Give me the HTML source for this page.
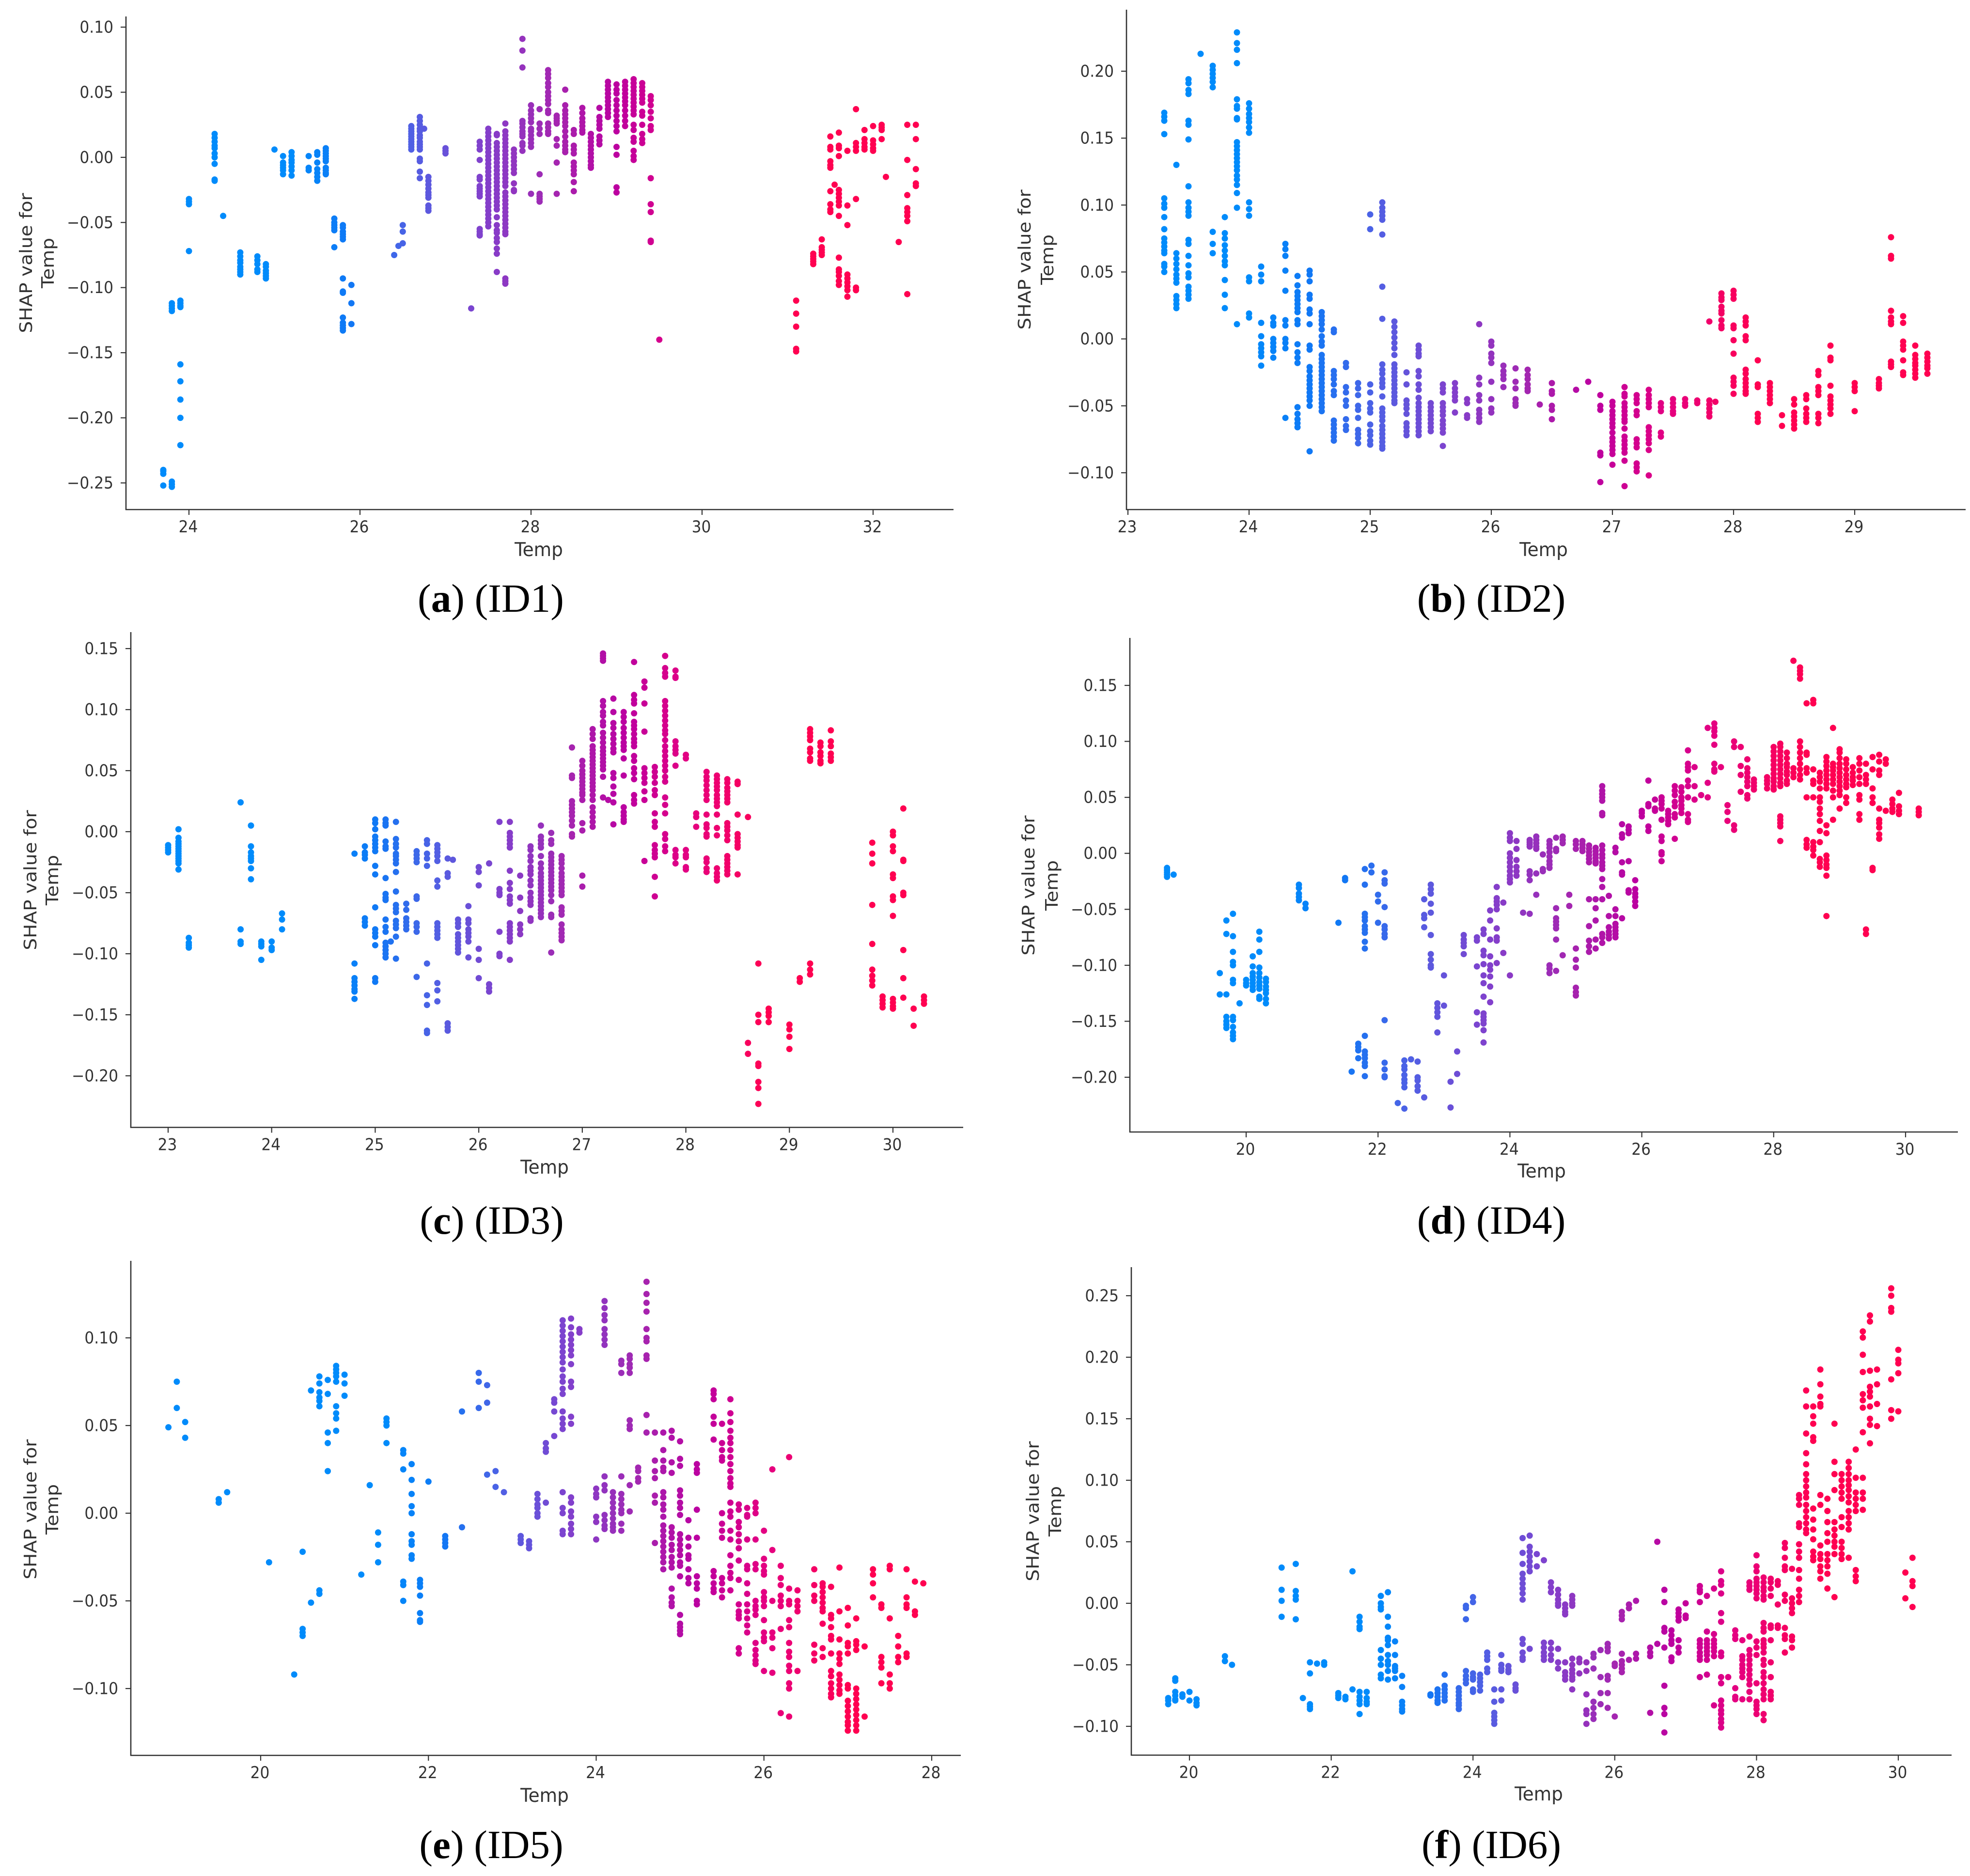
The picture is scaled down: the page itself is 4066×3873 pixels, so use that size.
<!DOCTYPE html>
<html lang="en">
<head>
<meta charset="utf-8">
<title>SHAP dependence plots for Temp, ID1 to ID6</title>
<style>
html,body{margin:0;padding:0;background:#fff;}
svg{display:block;}
.tick{font-family:"DejaVu Sans","Liberation Sans",sans-serif;font-size:34px;fill:#333;}
.axt{font-family:"DejaVu Sans","Liberation Sans",sans-serif;font-size:39px;fill:#333;}
.cap{font-family:"Liberation Serif",serif;font-size:83px;fill:#000;}
</style>
</head>
<body>
<svg id="figure" xmlns="http://www.w3.org/2000/svg" width="4066" height="3873" viewBox="0 0 4066 3873">
<rect width="4066" height="3873" fill="#fff"/>
<g id="panel-1">
<text class="axt" transform="translate(1112,1148) scale(.96,1)" text-anchor="middle">Temp</text>
<text class="axt" transform="translate(66,543) rotate(-90) scale(1,.92)" text-anchor="middle">SHAP value for</text>
<text class="axt" transform="translate(111,543) rotate(-90) scale(1,.92)" text-anchor="middle">Temp</text>
<text class="cap" x="1013" y="1263" text-anchor="middle">(<tspan font-weight="bold">a</tspan>) (ID1)</text>
</g>
<g id="panel-2">
<text class="axt" transform="translate(3186,1148) scale(.96,1)" text-anchor="middle">Temp</text>
<text class="axt" transform="translate(2127,536) rotate(-90) scale(1,.92)" text-anchor="middle">SHAP value for</text>
<text class="axt" transform="translate(2174,536) rotate(-90) scale(1,.92)" text-anchor="middle">Temp</text>
<text class="cap" x="3078" y="1263" text-anchor="middle">(<tspan font-weight="bold">b</tspan>) (ID2)</text>
</g>
<g id="panel-3">
<text class="axt" transform="translate(1124,2423) scale(.96,1)" text-anchor="middle">Temp</text>
<text class="axt" transform="translate(75,1817) rotate(-90) scale(1,.92)" text-anchor="middle">SHAP value for</text>
<text class="axt" transform="translate(120,1817) rotate(-90) scale(1,.92)" text-anchor="middle">Temp</text>
<text class="cap" x="1015" y="2547" text-anchor="middle">(<tspan font-weight="bold">c</tspan>) (ID3)</text>
</g>
<g id="panel-4">
<text class="axt" transform="translate(3182,2431) scale(.96,1)" text-anchor="middle">Temp</text>
<text class="axt" transform="translate(2135,1828) rotate(-90) scale(1,.92)" text-anchor="middle">SHAP value for</text>
<text class="axt" transform="translate(2183,1828) rotate(-90) scale(1,.92)" text-anchor="middle">Temp</text>
<text class="cap" x="3078" y="2547" text-anchor="middle">(<tspan font-weight="bold">d</tspan>) (ID4)</text>
</g>
<g id="panel-5">
<text class="axt" transform="translate(1124,3720) scale(.96,1)" text-anchor="middle">Temp</text>
<text class="axt" transform="translate(75,3116) rotate(-90) scale(1,.92)" text-anchor="middle">SHAP value for</text>
<text class="axt" transform="translate(120,3116) rotate(-90) scale(1,.92)" text-anchor="middle">Temp</text>
<text class="cap" x="1014" y="3836" text-anchor="middle">(<tspan font-weight="bold">e</tspan>) (ID5)</text>
</g>
<g id="panel-6">
<text class="axt" transform="translate(3176,3717) scale(.96,1)" text-anchor="middle">Temp</text>
<text class="axt" transform="translate(2144,3120) rotate(-90) scale(1,.92)" text-anchor="middle">SHAP value for</text>
<text class="axt" transform="translate(2190,3120) rotate(-90) scale(1,.92)" text-anchor="middle">Temp</text>
<text class="cap" x="3078" y="3836" text-anchor="middle">(<tspan font-weight="bold">f</tspan>) (ID6)</text>
</g>
</svg>
<script>
// ---------- ID1 ----------
const xTicks1=[24,26,28,30,32];
const yTicks1=[0.10,0.05,0,-0.05,-0.10,-0.15,-0.20,-0.25];
const temps1=[23.7,23.8,23.9,24,24.3,24.4,24.6,24.8,24.9,25,25.1,25.2,25.4,25.5,25.6,25.7,25.8,25.9,26.4,26.45,26.5,26.6,26.7,26.75,26.8,27,27.3,27.4,27.5,27.6,27.7,27.8,27.9,28,28.1,28.2,28.3,28.4,28.5,28.6,28.7,28.8,28.9,29,29.1,29.2,29.3,29.4,29.5,31.1,31.3,31.4,31.5,31.55,31.6,31.7,31.8,31.9,32,32.1,32.15,32.3,32.4,32.5];
const shap1=[
[-.24,-.241,-.243,-.252],
[-.112,-.114,-.116,-.118,-.249,-.251,-.253],
[-.11,-.112,-.114,-.115,-.159,-.172,-.186,-.2,-.221],
[-.032,-.034,-.036,-.072],
[.018,.015,.012,.009,.007,.003,0,-.005,-.017,-.018],
[-.045],
[-.073,-.076,-.079,-.081,-.084,-.086,-.088,-.09],
[-.076,-.079,-.082,-.086,-.088],
[-.082,-.084,-.087,-.089,-.091,-.093],
[.006],
[.001,-.004,-.006,-.008,-.01,-.013],
[.004,.001,-.002,-.004,-.007,-.01,-.014],
[.001,-.008,-.01],
[.004,.002,-.004,-.009,-.012,-.015,-.018],
[.007,.005,.003,.001,-.001,-.003,-.008,-.01,-.012,-.013],
[-.047,-.05,-.052,-.054,-.056,-.069],
[-.052,-.054,-.057,-.059,-.061,-.063,-.093,-.103,-.104,-.123,-.127,-.129,-.131,-.133],
[-.098,-.112,-.128],
[-.075],
[-.068],
[-.052,-.057,-.066],
[.024,.022,.02,.018,.016,.014,.012,.01,.008,.006],
[.031,.028,.025,.022,.02,.017,.015,.012,.01,.008,.006,-.001,-.003,-.011,-.016],
[.022],
[-.015,-.018,-.021,-.024,-.027,-.029,-.031,-.037,-.039,-.041],
[.007,.005,.003],
[-.116],
[.012,.009,.006,-.002,-.015,-.017,-.022,-.024,-.026,-.028,-.03,-.055,-.057,-.059,-.06],
[.022,.019,.016,.013,.01,.007,.004,.001,-.002,-.005,-.008,-.011,-.014,-.017,-.02,-.023,-.026,-.029,-.032,-.035,-.038,-.041,-.044,-.047,-.05,-.053],
[.018,.017,.011,.008,.005,.002,-.001,-.004,-.007,-.01,-.013,-.016,-.019,-.022,-.025,-.028,-.031,-.034,-.037,-.04,-.046,-.052,-.056,-.058,-.062,-.065,-.07,-.074,-.088],
[.026,.02,.017,.014,.011,.008,.005,.002,-.001,-.004,-.007,-.01,-.013,-.016,-.019,-.022,-.027,-.03,-.033,-.036,-.039,-.042,-.045,-.048,-.051,-.054,-.057,-.059,-.093,-.095,-.097],
[.006,.003,0,-.003,-.006,-.009,-.012,-.02,-.025,-.026],
[.091,.082,.069,.028,.026,.023,.02,.018,.016,.011,.009,.005],
[.04,.036,.033,.03,.027,.022,.02,.017,.014,.011,.008,-.028],
[.037,.026,.022,.018,-.013,-.028,-.03,-.032,-.034],
[.067,.064,.061,.057,.054,.05,.047,.044,.041,.036,.034,.026,.023,.02,.018],
[.032,.03,.028,.026,.014,.009,-.004,-.028],
[.052,.04,.036,.033,.03,.027,.024,.02,.016,.012,.009,.006,.004],
[.021,.018,.009,.006,.003,-.004,-.007,-.01,-.013,-.019,-.026],
[.038,.034,.03,.027,.024,.021,.019],
[.018,.015,.012,.009,.006,.003,0,-.003,-.006,-.008],
[.038,.031,.028,.025,.022,.016,.013,.01],
[.058,.055,.052,.049,.046,.043,.04,.037,.034,.031],
[.056,.052,.049,.044,.04,.036,.032,.028,.024,.02,.008,.002,-.023,-.027],
[.058,.055,.052,.049,.046,.043,.04,.036,.032,.028,.024],
[.06,.057,.054,.051,.048,.045,.042,.039,.036,.033,.025,.021,.015,.012,.005,.001,-.002],
[.057,.054,.051,.048,.045,.042,.035,.032,.025,.018,.014,.011],
[.047,.044,.04,.035,.03,.024,.021,-.016,-.036,-.042,-.064,-.065],
[-.14],
[-.11,-.12,-.13,-.147,-.149],
[-.074,-.076,-.078,-.08,-.082],
[-.063,-.069,-.071,-.073,-.075],
[.016,.008,.006,-.003,-.006,-.008,-.026,-.036,-.04,-.042],
[-.021],
[.019,.009,.007,.001,-.025,-.028,-.031,-.034,-.037,-.045,-.077,-.086,-.088,-.091,-.095,-.098],
[.005,-.037,-.052,-.09,-.093,-.096,-.099,-.102,-.107],
[.037,.011,.008,.005,-.032,-.1,-.102],
[.021,.014,.011,.008,.006],
[.024,.013,.01,.007,.005],
[.025,.023,.021,.014],
[-.015],
[-.065],
[.025,-.002,-.029,-.039,-.042,-.045,-.049,-.105],
[.025,.014,-.009,-.02,-.022]
];
// ---------- ID2 ----------
const xTicks2=[23,24,25,26,27,28,29];
const yTicks2=[0.20,0.15,0.10,0.05,0,-0.05,-0.10];
const temps2=[23.3,23.4,23.5,23.6,23.7,23.8,23.9,24,24.1,24.2,24.3,24.4,24.5,24.6,24.7,24.8,24.9,25,25.1,25.2,25.3,25.4,25.5,25.6,25.7,25.8,25.9,26,26.1,26.2,26.3,26.4,26.5,26.7,26.8,26.9,27,27.1,27.2,27.3,27.4,27.5,27.6,27.7,27.8,27.85,27.9,28,28.1,28.2,28.3,28.4,28.5,28.6,28.7,28.8,29,29.2,29.3,29.4,29.5,29.6];
const shap2=[
[.169,.166,.163,.153,.105,.101,.098,.091,.082,.075,.072,.069,.066,.064,.056,.054,.05],
[.13,.064,.06,.056,.052,.048,.045,.042,.032,.029,.026,.023],
[.194,.191,.186,.183,.163,.16,.149,.114,.102,.098,.095,.092,.074,.071,.062,.055,.049,.046,.039,.036,.033,.03],
[.213],
[.204,.201,.198,.195,.192,.188,.08,.071,.064],
[.091,.079,.075,.07,.066,.062,.058,.055,.044,.033,.023],
[.229,.221,.216,.206,.179,.174,.172,.165,.164,.147,.144,.141,.138,.135,.132,.129,.126,.122,.119,.115,.109,.098,.011],
[.176,.172,.168,.165,.162,.158,.154,.102,.097,.092,.046,.043,.019,.016],
[.054,.048,.043,.012,.002,-.004,-.007,-.01,-.013,-.02],
[.016,.012,.01,0,-.003,-.006,-.009,-.014],
[.071,.067,.062,.051,.036,.014,.01,0,-.003,-.007,-.059],
[.047,.04,.035,.032,.029,.026,.023,.02,.014,.011,-.004,-.01,-.014,-.018,-.051,-.056,-.06,-.063,-.066],
[.051,.048,.043,.033,.03,.022,.019,.011,-.005,-.008,-.021,-.024,-.028,-.031,-.034,-.037,-.04,-.043,-.046,-.05,-.084],
[.02,.017,.014,.011,.007,.002,-.002,-.005,-.012,-.015,-.018,-.021,-.024,-.027,-.03,-.033,-.036,-.039,-.042,-.045,-.048,-.051,-.054],
[.007,.005,-.024,-.027,-.03,-.034,-.039,-.042,-.061,-.064,-.067,-.07,-.073,-.076],
[-.018,-.021,-.036,-.04,-.046,-.05,-.06,-.065,-.068],
[-.033,-.037,-.042,-.05,-.053,-.059,-.068,-.071,-.074,-.078],
[.093,.082,-.034,-.04,-.048,-.052,-.055,-.064,-.069,-.072,-.076,-.079],
[.102,.098,.095,.092,.089,.078,.039,.015,-.019,-.023,-.026,-.03,-.033,-.036,-.043,-.052,-.055,-.058,-.061,-.065,-.068,-.071,-.074,-.077,-.08,-.082],
[.013,.009,.005,.001,-.003,-.007,-.012,-.019,-.022,-.025,-.028,-.031,-.034,-.037,-.04,-.043,-.046,-.048],
[-.025,-.034,-.046,-.049,-.052,-.056,-.063,-.066,-.069,-.072],
[-.005,-.008,-.011,-.013,-.024,-.028,-.034,-.038,-.044,-.048,-.051,-.054,-.057,-.06,-.063,-.066,-.069,-.072],
[-.048,-.051,-.054,-.057,-.06,-.063,-.066,-.069],
[-.034,-.037,-.04,-.048,-.051,-.054,-.057,-.061,-.064,-.067,-.07,-.08],
[-.033,-.037,-.04,-.043,-.046,-.055],
[-.045,-.048,-.057,-.059],
[.011,-.029,-.034,-.042,-.046,-.053,-.056,-.059,-.062],
[-.002,-.005,-.011,-.014,-.018,-.032,-.045,-.052,-.055],
[-.02,-.024,-.027,-.03,-.036],
[-.022,-.032,-.037,-.045,-.048,-.05],
[-.023,-.027,-.03,-.034,-.037,-.039],
[-.049],
[-.033,-.039,-.041,-.05,-.053,-.06],
[-.038],
[-.032],
[-.042,-.05,-.053,-.085,-.087,-.107],
[-.047,-.05,-.054,-.057,-.06,-.063,-.066,-.07,-.074,-.077,-.08,-.083,-.086,-.094],
[-.036,-.041,-.043,-.048,-.051,-.054,-.057,-.06,-.062,-.067,-.073,-.076,-.079,-.082,-.085,-.091,-.11],
[-.042,-.045,-.048,-.054,-.057,-.075,-.078,-.081,-.093,-.096,-.099],
[-.038,-.042,-.045,-.048,-.051,-.066,-.069,-.072,-.075,-.078,-.083,-.102],
[-.048,-.051,-.054,-.07,-.073],
[-.045,-.048,-.051,-.054,-.056],
[-.045,-.048,-.05],
[-.046,-.048],
[.013,-.046,-.049,-.052,-.055,-.058],
[-.047],
[.034,.031,.029,.024,.021,.019,.014,.01,.008],
[.036,.033,.03,.01,.008,-.001,-.011,-.029,-.032,-.035,-.041],
[.016,.013,.01,.002,-.001,-.023,-.026,-.03,-.033,-.036,-.039,-.041],
[-.016,-.034,-.036,-.056,-.059,-.062],
[-.033,-.036,-.039,-.042,-.045,-.048],
[-.057,-.065],
[-.045,-.049,-.055,-.058,-.061,-.064,-.067],
[-.042,-.045,-.052,-.056,-.059,-.062],
[-.024,-.027,-.036,-.039,-.042,-.056,-.059,-.063],
[-.005,-.014,-.016,-.035,-.043,-.046,-.049,-.052,-.056],
[-.033,-.036,-.039,-.054],
[-.03,-.033,-.035,-.037],
[.076,.062,.06,.021,.016,.013,.011,-.017,-.019,-.021],
[.017,.012,-.002,-.005,-.008,-.016,-.025,-.027],
[-.005,-.012,-.015,-.018,-.02,-.023,-.026,-.029],
[-.011,-.014,-.017,-.02,-.022,-.026]
];
// ---------- ID3 ----------
const xTicks3=[23,24,25,26,27,28,29,30];
const yTicks3=[0.15,0.10,0.05,0,-0.05,-0.10,-0.15,-0.20];
const temps3=[23,23.1,23.2,23.7,23.8,23.9,24,24.1,24.8,24.9,25,25.1,25.15,25.2,25.3,25.4,25.5,25.6,25.7,25.75,25.8,25.9,26,26.1,26.2,26.3,26.4,26.5,26.6,26.7,26.8,26.9,27,27.1,27.2,27.25,27.3,27.4,27.5,27.6,27.7,27.8,27.9,28,28.1,28.2,28.3,28.4,28.5,28.6,28.7,28.8,29,29.1,29.2,29.3,29.4,29.8,29.9,30,30.1,30.2,30.3];
const shap3=[
[-.011,-.013,-.015,-.017],
[.002,-.005,-.008,-.01,-.012,-.014,-.016,-.018,-.02,-.022,-.024,-.026,-.031],
[-.087,-.091,-.093,-.095],
[.024,-.08,-.09,-.092],
[.005,-.012,-.017,-.02,-.022,-.024,-.03,-.039],
[-.09,-.092,-.094,-.105],
[-.09,-.095,-.097],
[-.067,-.072,-.08],
[-.018,-.108,-.12,-.123,-.126,-.129,-.131,-.137],
[-.012,-.017,-.019,-.022,-.071,-.074,-.077],
[.01,.007,.002,-.004,-.007,-.01,-.013,-.016,-.028,-.035,-.062,-.08,-.083,-.086,-.093,-.12,-.123],
[.01,.007,.005,-.008,-.012,-.014,-.038,-.051,-.054,-.056,-.072,-.078,-.082,-.091,-.094,-.097,-.1,-.103],
[-.09],
[.008,-.006,-.01,-.013,-.018,-.02,-.023,-.026,-.033,-.049,-.06,-.063,-.066,-.073,-.076,-.079,-.086,-.104],
[-.059,-.064,-.071,-.074,-.077,-.08],
[-.016,-.019,-.022,-.025,-.053,-.055,-.075,-.078,-.082,-.119],
[-.007,-.01,-.018,-.022,-.028,-.108,-.134,-.142,-.163,-.165],
[-.011,-.014,-.017,-.02,-.024,-.04,-.045,-.075,-.078,-.081,-.084,-.087,-.124,-.13,-.139],
[-.022,-.034,-.037,-.157,-.16,-.163],
[-.023],
[-.072,-.075,-.078,-.084,-.087,-.09,-.093,-.096,-.099],
[-.061,-.072,-.075,-.08,-.083,-.086,-.09,-.103],
[-.029,-.033,-.044,-.096,-.105,-.12],
[-.026,-.125,-.128,-.131],
[.008,-.047,-.05,-.052,-.082,-.1,-.102],
[.008,-.001,-.004,-.007,-.01,-.013,-.032,-.042,-.047,-.053,-.056,-.059,-.075,-.078,-.081,-.084,-.087,-.09,-.105],
[-.036,-.054,-.065,-.076,-.08,-.084],
[-.012,-.015,-.02,-.024,-.029,-.032,-.035,-.04,-.044,-.05,-.054,-.057,-.06,-.071,-.073],
[.005,-.004,-.007,-.01,-.013,-.02,-.026,-.03,-.034,-.037,-.04,-.043,-.046,-.049,-.052,-.055,-.058,-.061,-.064,-.067,-.07],
[-.001,-.007,-.01,-.018,-.021,-.024,-.027,-.03,-.033,-.036,-.039,-.042,-.045,-.048,-.052,-.057,-.068,-.07,-.099],
[-.02,-.023,-.026,-.03,-.034,-.037,-.04,-.043,-.046,-.049,-.052,-.062,-.065,-.068,-.076,-.08,-.083,-.086,-.089],
[.069,.046,.044,.025,.022,.019,.016,.013,.009,.005,-.002,-.004],
[.058,.054,.05,.047,.044,.041,.038,.035,.032,.03,.026,.007,.001,-.036,-.045],
[.084,.08,.076,.07,.067,.064,.061,.058,.055,.052,.049,.046,.043,.04,.037,.034,.03,.026,.02,.016,.012,.008,.004],
[.146,.144,.142,.14,.107,.103,.098,.095,.09,.087,.081,.077,.073,.069,.066,.063,.06,.057,.054,.051,.045,.028],
[.026],
[.109,.098,.089,.085,.08,.076,.072,.068,.065,.048,.044,.037,.031,.024,.006],
[.098,.094,.09,.085,.081,.077,.073,.07,.067,.06,.046,.02,.016,.013,.01,.008],
[.139,.112,.108,.105,.097,.09,.087,.084,.08,.076,.073,.07,.062,.058,.052,.048,.043,.03,.026,.023],
[.123,.118,.105,.082,.052,.048,.044,.04,.033,.026,-.024],
[.053,.049,.045,.04,.034,.03,.015,.008,.004,-.011,-.015,-.018,-.021,-.037,-.053],
[.144,.134,.13,.127,.107,.103,.099,.095,.091,.087,.083,.08,.075,.07,.066,.062,.058,.054,.05,.045,.041,.028,.022,.015,-.002,-.006,-.012,-.016],
[.132,.127,.126,.074,.07,.067,.064,.054,-.015,-.019,-.021,-.026],
[.063,.06,-.015,-.019,-.021,-.029,-.031],
[.015,.012,.004],
[.049,.045,.042,.038,.034,.03,.026,.014,.006,.003,-.002,-.004,-.022,-.025,-.03,-.033],
[.046,.043,.04,.037,.034,.03,.027,.024,.021,.014,.003,-.003,-.03,-.034,-.037,-.04],
[.043,.04,.036,.033,.03,.027,.024,.007,.004,.001,-.003,-.007,-.02,-.023,-.026,-.029,-.032,-.035],
[.041,.039,.014,-.002,-.005,-.008,-.011,-.013,-.035],
[.012,-.173,-.182],
[-.108,-.15,-.156,-.19,-.192,-.205,-.21,-.223],
[-.145,-.148,-.151,-.156],
[-.158,-.162,-.168,-.178],
[-.12,-.123],
[.084,.081,.078,.075,.068,.065,.06,.058,-.108,-.113,-.117],
[.073,.07,.065,.062,.058,.056],
[.083,.074,.07,.064,.061,.058],
[-.009,-.018,-.026,-.06,-.092,-.113,-.118,-.122,-.126],
[-.135,-.138,-.141,-.144],
[0,-.003,-.012,-.016,-.035,-.038,-.053,-.056,-.069,-.137,-.14,-.143,-.145],
[.019,-.023,-.024,-.05,-.052,-.097,-.12,-.136],
[-.145,-.159],
[-.135,-.138,-.141]
];
// ---------- ID4 ----------
const xTicks4=[20,22,24,26,28,30];
const yTicks4=[0.15,0.10,0.05,0,-0.05,-0.10,-0.15,-0.20];
const temps4=[18.8,18.9,19.6,19.7,19.8,19.9,20,20.1,20.2,20.3,20.8,20.9,21.4,21.5,21.6,21.7,21.8,21.9,22,22.1,22.3,22.4,22.5,22.6,22.7,22.8,22.9,23,23.1,23.2,23.3,23.5,23.6,23.7,23.8,23.9,24,24.1,24.2,24.3,24.4,24.5,24.6,24.7,24.8,24.9,25,25.1,25.2,25.3,25.4,25.5,25.6,25.7,25.8,25.9,26,26.1,26.2,26.3,26.4,26.5,26.6,26.7,26.8,26.9,27,27.1,27.2,27.3,27.4,27.5,27.6,27.7,27.9,28,28.1,28.2,28.3,28.4,28.5,28.6,28.7,28.8,28.9,29,29.1,29.2,29.3,29.4,29.5,29.6,29.7,29.8,29.9,30.2];
const shap4=[
[-.013,-.015,-.017,-.019,-.021],
[-.019],
[-.107,-.126],
[-.06,-.072,-.126,-.146,-.15,-.153,-.156],
[-.054,-.074,-.088,-.097,-.1,-.113,-.116,-.146,-.149,-.155,-.16,-.163,-.166],
[-.134],
[-.113,-.116,-.118],
[-.092,-.101,-.107,-.11,-.113,-.116,-.119,-.122],
[-.07,-.077,-.088,-.102,-.107,-.111,-.115,-.118,-.121,-.128,-.13],
[-.112,-.115,-.119,-.122,-.125,-.13,-.134],
[-.028,-.031,-.036,-.039,-.042],
[-.045,-.049],
[-.062],
[-.022,-.024],
[-.195],
[-.17,-.173,-.176,-.183],
[-.014,-.028,-.054,-.057,-.06,-.065,-.068,-.071,-.079,-.085,-.163,-.177,-.18,-.183,-.187,-.19,-.199],
[-.011,-.017],
[-.037,-.043,-.062],
[-.017,-.024,-.027,-.048,-.065,-.068,-.072,-.075,-.149,-.187,-.193,-.199,-.2],
[-.223],
[-.185,-.19,-.193,-.198,-.202,-.205,-.209,-.228],
[-.184],
[-.186,-.2,-.203,-.208,-.212],
[-.041,-.055,-.058,-.066,-.218],
[-.028,-.032,-.036,-.045,-.053,-.073,-.09,-.095,-.1,-.102],
[-.134,-.138,-.142,-.146,-.16],
[-.109,-.136],
[-.204,-.227],
[-.177,-.197],
[-.073,-.077,-.08,-.083,-.09],
[-.075,-.078,-.101,-.142,-.153],
[-.068,-.072,-.087,-.091,-.099,-.109,-.116,-.128,-.143,-.146,-.149,-.152,-.158,-.169],
[-.051,-.06,-.077,-.092,-.1,-.104,-.11,-.119,-.133],
[-.03,-.04,-.043,-.046,-.05,-.067,-.075,-.078,-.098],
[-.044,-.089],
[.018,.014,.011,0,-.004,-.008,-.012,-.016,-.02,-.023,-.026,-.109],
[.011,.004,-.006,-.012,-.016,-.02],
[-.053],
[.012,.01,.008,.006,-.016,-.019,-.024,-.054],
[.015,.012,.009,.006,.004,-.018,-.037],
[-.001,-.014,-.016],
[.011,.008,.005,.001,-.003,-.007,-.01,-.013,-.1,-.103,-.107],
[.014,.004,.002,-.049,-.058,-.061,-.064,-.067,-.077,-.105],
[.015,.012,.009,-.091],
[-.037,-.047],
[.011,.008,.004,-.085,-.095,-.102,-.12,-.124,-.127],
[.011,.008,.005,.002],
[.007,.004,.001,-.002,-.005,-.008,-.041,-.065,-.078,-.083,-.088],
[.005,.002,-.001,-.004,-.007,-.009,-.041,-.049,-.06,-.077,-.085],
[.06,.056,.053,.05,.047,.036,.034,.007,.003,-.001,-.004,-.008,-.011,-.014,-.023,-.03,-.041,-.072,-.075,-.08],
[-.038,-.056,-.066,-.07,-.073,-.076],
[.005,.001,-.05,-.056,-.063,-.066,-.069,-.072,-.075],
[.026,.017,.014,-.008,-.017,-.019,-.058],
[.024,.021,.018,-.007,-.033,-.035],
[-.024,-.032,-.036,-.039,-.043,-.047],
[.033,.036,.038],
[.065,.044,.042,.024,.02],
[.048,.04,.038],
[.05,.047,.044,.04,.03,.015,.011,.001,-.001,-.007],
[.038,.035,.032,.029,.026],
[.06,.056,.052,.046,.042,.035,.032,.013],
[.059,.055,.05,.047,.043,.04,.036],
[.092,.08,.077,.074,.065,.06,.05,.035,.03,.028],
[.077,.06,.048],
[.052],
[.112,.063,.05],
[.116,.112,.109,.105,.097,.08,.075,.073],
[.077],
[.043,.037,.029],
[.1,.095,.025,.021],
[.095,.078,.07,.055],
[.084,.076,.072,.068,.064,.06,.052,.049],
[.066,.063,.06,.057],
[.068,.065,.062,.058],
[.095,.091,.087,.083,.079,.075,.071,.067,.064,.06,.057],
[.098,.095,.091,.087,.083,.079,.075,.071,.067,.063,.06,.033,.03,.027,.024,.011],
[.09,.085,.08,.077,.073,.07,.065,.062],
[.172,.076,.072,.068],
[.166,.163,.16,.156,.1,.095,.09,.085,.08,.075,.07,.066],
[.134,.09,.088,.076,.072,.05,.012,.008,.005],
[.137,.134,.075,.065,.062,.05,.01,.006,.003,-.002],
[.072,.068,.064,.058,.05,.046,.04,.035,.029,.02,.01,-.005,-.008,-.012],
[.086,.082,.078,.074,.07,.066,.062,.058,.025,.018,-.002,-.006,-.01,-.013,-.02,-.056],
[.112,.08,.077,.074,.07,.066,.062,.056,.05,.03],
[.093,.09,.085,.08,.076,.072,.068,.064,.06,.056,.052,.04],
[.084,.08,.075,.07,.066,.062,.059,.05,.045],
[.077,.072,.068,.065,.061],
[.085,.08,.074,.068,.062,.052,.048,.035,.03],
[.08,.07,.066,.062,-.068,-.072],
[.086,.075,.058,.05,.045,-.013,-.015],
[.088,.082,.074,.07,.04,.03,.027,.023,.017,.013],
[.084,.08,.038],
[.048,.044,.04,.037],
[.054,.042,.038,.035],
[.04,.037,.034]
];
// ---------- ID5 ----------
const xTicks5=[20,22,24,26,28];
const yTicks5=[0.10,0.05,0,-0.05,-0.10];
const temps5=[18.9,19,19.1,19.5,19.6,20.1,20.4,20.5,20.6,20.7,20.8,20.9,21,21.2,21.3,21.4,21.5,21.7,21.8,21.9,22,22.2,22.4,22.6,22.7,22.8,22.9,23.1,23.2,23.3,23.4,23.5,23.6,23.7,23.8,24,24.1,24.2,24.3,24.4,24.5,24.6,24.7,24.8,24.9,25,25.1,25.2,25.4,25.5,25.6,25.7,25.8,25.9,26,26.1,26.2,26.3,26.4,26.6,26.7,26.8,26.9,27,27.1,27.2,27.3,27.4,27.5,27.6,27.7,27.8,27.9];
const shap5=[
[.049],
[.075,.06],
[.052,.043],
[.008,.006],
[.012],
[-.028],
[-.092],
[-.022,-.066,-.068,-.07],
[.07,-.051],
[.078,.074,.069,.066,.064,.061,-.044,-.046],
[.076,.068,.046,.04,.024],
[.084,.082,.08,.078,.075,.061,.057,.054,.047],
[.079,.074,.067],
[-.035],
[.016],
[-.011,-.018,-.028],
[.054,.052,.05,.04],
[.036,.034,.025,-.039,-.041,-.05],
[.028,.019,.011,.004,0,-.012,-.016,-.018,-.024,-.026],
[-.038,-.04,-.042,-.047,-.057,-.061,-.062],
[.018],
[-.013,-.015,-.017,-.019],
[.058,-.008],
[.08,.075,.06],
[.073,.063,.022],
[.024,.015],
[.012],
[-.013,-.015,-.017],
[-.016,-.018,-.02],
[.011,.008,.005,.003,0,-.002],
[.04,.037,.035,.006],
[.065,.063,.058,.044],
[.11,.107,.104,.101,.098,.095,.092,.089,.086,.082,.078,.075,.071,.068,.058,.054,.051,.048,.012,.003,0,-.01,-.012],
[.111,.106,.102,.099,.096,.093,.09,.085,.075,.072,.055,.051,.009,.006,.001,-.002,-.006,-.009,-.012],
[.105,.103],
[.014,.011,.009,-.002,-.005,-.015],
[.121,.117,.113,.11,.105,.102,.099,.096,.021,.016,.013,-.001,-.004,-.007,-.009],
[.012,.009,.006,.003,0,-.003,-.006,-.008,-.01],
[.087,.085,.08,.021,.011,.008,.005,.002,0,-.006,-.01],
[.09,.088,.085,.083,.08,.053,.05,.048,.016,.001],
[.026,.024,.02,.018],
[.132,.125,.12,.115,.105,.1,.098,.09,.088,.056,.046],
[.046,.03,.024,.02,.01,.006,-.017],
[.046,.036,.03,.026,.024,.012,.009,.005,.002,-.002,-.007,-.01,-.013,-.016,-.019,-.022,-.025,-.028,-.032],
[.047,.043,.029,.023,-.008,-.011,-.014,-.018,-.021,-.025,-.028,-.031,-.043,-.048,-.051,-.053],
[.041,.031,.027,.013,.01,.006,.003,-.001,-.012,-.015,-.018,-.021,-.024,-.028,-.03,-.036,-.058,-.063,-.065,-.067,-.069],
[-.004,-.014,-.019,-.024,-.026,-.032,-.037,-.04],
[.028,.025,.023,.002,-.014,-.036,-.04,-.043,-.05,-.052],
[.07,.068,.065,.055,.051,.042,-.033,-.036,-.04,-.043,-.045],
[.051,.04,.036,.032,.03,0,-.006,-.01,-.014,-.037,-.04,-.044,-.048],
[.065,.057,.052,.047,.043,.04,.036,.032,.028,.024,.02,.017,.015,.006,.001,-.002,-.01,-.015,-.024,-.03,-.034,-.037,-.044],
[.005,.002,-.005,-.008,-.012,-.016,-.02,-.027,-.038,-.052,-.056,-.058,-.06,-.077,-.08],
[.003,-.001,-.002,-.015,-.03,-.032,-.04,-.046,-.052,-.056,-.06,-.064,-.068],
[.006,.003,0,-.015,-.029,-.032,-.05,-.053,-.055,-.058,-.074,-.078,-.081,-.084,-.086],
[-.01,-.026,-.03,-.033,-.035,-.045,-.048,-.05,-.053,-.061,-.068,-.071,-.073,-.09],
[.025,-.021,-.05,-.068,-.071,-.077,-.091],
[-.03,-.037,-.041,-.047,-.05,-.053,-.066,-.114],
[.032,-.043,-.05,-.052,-.061,-.065,-.074,-.079,-.082,-.087,-.09,-.097,-.1,-.116],
[-.044,-.05,-.053,-.056,-.09],
[-.032,-.041,-.047,-.05,-.075,-.08,-.084],
[-.04,-.042,-.045,-.048,-.051,-.054,-.056,-.063,-.077,-.082],
[-.042,-.058,-.06,-.065,-.07,-.072,-.08,-.09,-.093,-.097,-.1,-.103,-.105],
[-.031,-.056,-.072,-.08,-.083,-.086,-.092,-.095,-.098,-.101,-.103],
[-.054,-.064,-.074,-.076,-.08,-.098,-.1,-.107,-.11,-.113,-.116,-.119,-.121,-.124],
[-.06,-.073,-.075,-.078,-.1,-.103,-.106,-.109,-.112,-.115,-.118,-.121,-.124],
[-.076,-.116],
[-.032,-.035,-.04,-.048],
[-.052,-.054,-.082,-.085,-.088,-.097],
[-.03,-.032,-.06,-.092,-.097,-.1],
[-.07,-.076,-.082,-.085],
[-.032,-.048,-.052,-.054,-.08,-.082],
[-.039,-.056,-.058],
[-.04]
];
// ---------- ID6 ----------
const xTicks6=[20,22,24,26,28,30];
const yTicks6=[0.25,0.20,0.15,0.10,0.05,0,-0.05,-0.10];
const temps6=[19.7,19.8,19.9,20,20.1,20.5,20.6,21.3,21.5,21.6,21.7,21.8,21.9,22.1,22.2,22.3,22.4,22.5,22.7,22.8,22.9,23,23.4,23.5,23.6,23.8,23.9,24,24.1,24.2,24.3,24.4,24.5,24.6,24.7,24.8,24.9,25,25.1,25.2,25.3,25.4,25.5,25.6,25.7,25.8,25.9,26,26.1,26.2,26.3,26.5,26.6,26.7,26.8,26.9,27,27.2,27.3,27.4,27.5,27.6,27.7,27.8,27.9,28,28.1,28.2,28.3,28.4,28.5,28.6,28.7,28.8,28.9,29,29.1,29.2,29.3,29.4,29.5,29.6,29.7,29.9,30,30.1,30.2];
const shap6=[
[-.077,-.079,-.082],
[-.061,-.063,-.072,-.075,-.078,-.079],
[-.074,-.076],
[-.072,-.079],
[-.078,-.081,-.083],
[-.043,-.047],
[-.05],
[.029,.011,.002,-.011],
[.032,.01,.006,.003,-.013],
[-.077],
[-.048,-.057,-.082,-.084,-.086],
[-.049],
[-.048,-.05],
[-.073,-.075,-.077],
[-.076,-.078],
[.026,-.07],
[-.011,-.015,-.019,-.021,-.072,-.076,-.079,-.082,-.09],
[-.072,-.077,-.08,-.082],
[.006,0,-.003,-.005,-.038,-.045,-.05,-.058,-.061],
[.009,-.011,-.019,-.028,-.03,-.034,-.042,-.047,-.05,-.055,-.062],
[-.031,-.042,-.051,-.053,-.055,-.061],
[-.059,-.068,-.08,-.083,-.086,-.088],
[-.074,-.075],
[-.07,-.073,-.076,-.079,-.081],
[-.058,-.067,-.07,-.073,-.076,-.079],
[-.069,-.072,-.075,-.078,-.081,-.083,-.086],
[-.002,-.004,-.013,-.055,-.059,-.062,-.065],
[.005,.001,-.057,-.06,-.062,-.07,-.072],
[-.058,-.061,-.064,-.067,-.071],
[-.04,-.043,-.046,-.053,-.056],
[-.07,-.08,-.089,-.092,-.095,-.098],
[-.042,-.05,-.053,-.055,-.07,-.079],
[-.051,-.054,-.056],
[-.066,-.069,-.071],
[.053,.041,.032,.024,.02,.016,.012,.008,.003,-.029,-.033,-.04,-.044,-.046],
[.055,.046,.042,.038,.034,.03,.026,-.037],
[.04,.03],
[.035,-.032,-.036,-.04,-.043,-.046],
[.017,.013,.009,-.032,-.037,-.042,-.046],
[.011,.007,.003,0,-.002,-.037,-.048,-.053],
[-.001,-.004,-.007,-.009,-.048,-.056,-.059,-.062],
[.006,.003,0,-.002,-.045,-.05,-.054,-.057,-.06,-.062,-.07],
[-.045,-.048,-.057],
[-.048,-.055,-.074,-.087,-.09,-.098],
[-.041,-.044,-.053,-.08,-.085,-.09,-.094],
[-.038,-.06,-.073,-.082],
[-.033,-.036,-.039,-.059,-.062,-.073,-.085],
[-.049,-.051,-.092],
[-.007,-.01,-.013,-.041,-.047,-.05,-.053,-.056],
[-.001,-.004,-.046],
[.002,-.041,-.045],
[-.036,-.04,-.043,-.089],
[.05,-.033],
[.011,.001,-.02,-.023,-.036,-.067,-.085,-.09,-.105],
[-.022,-.026,-.03,-.033,-.044,-.047],
[-.005,-.008,-.011,-.014,-.03,-.036,-.04],
[0,-.01,-.012],
[.014,.011,.009,.001,-.03,-.033,-.036,-.04,-.043,-.046,-.06],
[.006,-.023,-.03,-.033,-.036,-.039,-.042,-.046,-.058],
[.012,-.025,-.03,-.033,-.036,-.039,-.043,-.083],
[.026,.018,.015,.008,-.008,-.015,-.04,-.043,-.06,-.065,-.079,-.083,-.087,-.09,-.094,-.097,-.101],
[-.06],
[-.022,-.026,-.029,-.069,-.076,-.078],
[-.03,-.043,-.046,-.05,-.053,-.056,-.06,-.078],
[.017,.014,.011,-.027,-.038,-.042,-.046,-.05,-.054,-.058,-.062,-.066,-.072,-.078],
[.039,.03,.026,.02,.017,.014,.011,.008,.004,-.031,-.036,-.042,-.065,-.08,-.083,-.086,-.09],
[.021,.017,.013,.01,.006,.003,-.016,-.02,-.023,-.03,-.033,-.036,-.04,-.046,-.05,-.056,-.06,-.065,-.07,-.074,-.078,-.09,-.095],
[.02,.017,.012,.006,-.018,-.02,-.03,-.048,-.06,-.072,-.075,-.078],
[.018,.015,-.001,-.018,-.02],
[.049,.045,.037,.03,.027,.007,.002,-.02,-.026,-.029,-.04],
[.028,.004,0,-.004,-.008,-.027,-.03,-.036],
[.088,.085,.08,.065,.062,.048,.042,.037,.027,.02,.011,.006,.001],
[.173,.16,.138,.122,.113,.105,.1,.095,.09,.086,.08,.075,.07,.065,.06,.057],
[.16,.152,.146,.135,.132,.077,.068,.06,.052,.042,.038,.035],
[.19,.178,.168,.162,.16,.088,.08,.047,.04,.036,.03,.026,.02],
[.085,.075,.066,.057,.05,.04,.035,.03,.024,.012],
[.146,.115,.105,.092,.066,.06,.055,.05,.046,.04,.005],
[.105,.1,.095,.09,.085,.07,.062,.05,.045,.04,.036],
[.115,.11,.105,.1,.096,.092,.087,.082,.075,.07,.065,.06,.037],
[.125,.102,.09,.085,.08,.075,.027,.022,.018],
[.221,.216,.202,.188,.17,.165,.159,.139,.102,.09,.085,.076],
[.234,.229,.189,.176,.172,.168,.16,.15,.145,.13],
[.19,.178,.162,.144],
[.256,.25,.24,.237,.182,.157,.15],
[.206,.198,.195,.187,.156],
[.025,.004],
[.037,.018,.014,-.003]
];

const NS='http://www.w3.org/2000/svg';
const colorStops=[[0,[0,139,251]],[0.12,[16,120,245]],[0.25,[80,96,228]],[0.4,[130,64,204]],[0.55,[164,38,176]],[0.68,[188,0,160]],[0.82,[228,0,130]],[1,[255,0,81]]];
function colorAt(t){
  t=Math.max(0,Math.min(1,t));
  for(let i=1;i<colorStops.length;i++){
    if(t<=colorStops[i][0]){
      const a=colorStops[i-1],b=colorStops[i],f=(t-a[0])/(b[0]-a[0]);
      return 'rgb('+a[1].map((v,k)=>Math.round(v+(b[1][k]-v)*f)).join(',')+')';
    }
  }
  return 'rgb(255,0,81)';
}
function linear(d0,d1,p0,p1){return v=>p0+(v-d0)/(d1-d0)*(p1-p0);}
function fmt(v){return (v<0?'\u2212':'')+Math.abs(v).toFixed(2);}

function drawPanel(cfg,temps,shap,xTicks,yTicks){
  const g=document.getElementById(cfg.id);
  const sx=linear(cfg.xd[0],cfg.xd[1],cfg.xp[0],cfg.xp[1]);
  const sy=linear(cfg.yd[0],cfg.yd[1],cfg.yp[0],cfg.yp[1]);
  const tone=v=>colorAt((v-cfg.color[0])/(cfg.color[1]-cfg.color[0]));
  const dots=document.createElementNS(NS,'g');
  
  
  g.appendChild(dots);
  temps.forEach((t,i)=>{
    shap[i].forEach(v=>{
      const c=document.createElementNS(NS,'circle');
      
      
      c.setAttribute('cx',sx(t).toFixed(1));
      c.setAttribute('cy',sy(v).toFixed(1));
      c.setAttribute('r',6.5);
      c.setAttribute('fill',tone(t));
      dots.appendChild(c);
    });
  });
  const mkLine=(x1,y1,x2,y2,w)=>{
    const l=document.createElementNS(NS,'line');
    l.setAttribute('x1',x1);l.setAttribute('y1',y1);l.setAttribute('x2',x2);l.setAttribute('y2',y2);
    l.setAttribute('stroke','#333');l.setAttribute('stroke-width',w);
    g.appendChild(l);
    return l;
  };
  const yAxis=mkLine(cfg.l,cfg.t,cfg.l,cfg.b+1,2.6);
  
  
  const xAxis=mkLine(cfg.l-1,cfg.b,cfg.r,cfg.b,2.6);
  
  
  xTicks.forEach(v=>{
    const p=sx(v);
    const m=mkLine(p,cfg.b,p,cfg.b+11,2.2);
    
    
    const tx=document.createElementNS(NS,'text');
    
    
    tx.setAttribute('class','tick');
    tx.setAttribute('transform','translate('+(p-1.5)+','+(cfg.b+47)+') scale(.92,1)');
    tx.setAttribute('text-anchor','middle');
    tx.textContent=String(v);
    g.appendChild(tx);
  });
  yTicks.forEach(v=>{
    const p=sy(v);
    const m=mkLine(cfg.l-11,p,cfg.l,p,2.2);
    
    
    const tx=document.createElementNS(NS,'text');
    
    
    tx.setAttribute('class','tick');
    tx.setAttribute('transform','translate('+(cfg.l-26)+','+(p+11.5)+') scale(.92,1)');
    tx.setAttribute('text-anchor','end');
    tx.textContent=fmt(v);
    g.appendChild(tx);
  });
}
drawPanel({id:'panel-1',l:260,r:1968,t:34,b:1052,xd:[24,32],xp:[390,1802],yd:[0.10,-0.25],yp:[56,997],color:[25.2,30.8]},temps1,shap1,xTicks1,yTicks1);
drawPanel({id:'panel-2',l:2325,r:4057,t:20,b:1052,xd:[23,29],xp:[2328,3828],yd:[0.20,-0.10],yp:[147,976],color:[24,28.2]},temps2,shap2,xTicks2,yTicks2);
drawPanel({id:'panel-3',l:270,r:1988,t:1305,b:2327.5,xd:[23,30],xp:[347,1843],yd:[0.15,-0.20],yp:[1339,2221],color:[24.5,28.8]},temps3,shap3,xTicks3,yTicks3);
drawPanel({id:'panel-4',l:2332,r:4041,t:1317,b:2337,xd:[20,30],xp:[2572,3933],yd:[0.15,-0.20],yp:[1415,2224],color:[20.5,28.5]},temps4,shap4,xTicks4,yTicks4);
drawPanel({id:'panel-5',l:270,r:1983,t:2603,b:3624,xd:[20,28],xp:[538,1923],yd:[0.10,-0.10],yp:[2762,3486],color:[21.5,27]},temps5,shap5,xTicks5,yTicks5);
drawPanel({id:'panel-6',l:2335,r:4028,t:2616,b:3623.5,xd:[20,30],xp:[2455,3918],yd:[0.25,-0.10],yp:[2675,3564],color:[22.6,28.8]},temps6,shap6,xTicks6,yTicks6);
</script>
</body>
</html>
